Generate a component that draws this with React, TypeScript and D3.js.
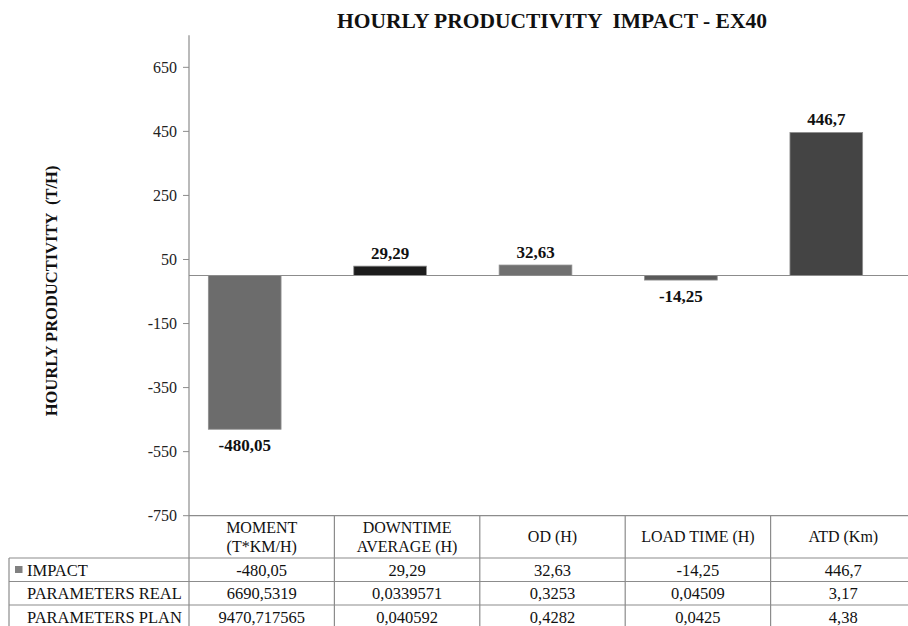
import React from "react";
import * as d3 from "d3";

const categories = ["MOMENT|(T*KM/H)", "DOWNTIME|AVERAGE (H)", "OD (H)", "LOAD TIME (H)", "ATD (Km)"];
const impact = [-480.05, 29.29, 32.63, -14.25, 446.7];
const paramsReal = [6690.5319, 0.0339571, 0.3253, 0.04509, 3.17];
const paramsPlan = [9470.717565, 0.040592, 0.4282, 0.0425, 4.38];
const rowLabels = ["IMPACT", "PARAMETERS REAL", "PARAMETERS PLAN"];
const yTicks = [-750, -550, -350, -150, 50, 250, 450, 650];
const barColors = ["#6c6c6c", "#1c1c1c", "#707070", "#5a5a5a", "#444444"];

const W = 908;
const H = 626;
const FONT = "Liberation Serif, DejaVu Serif, Times, serif";
const GRID = "#8c8c8c";

const fmt = (v: number) => String(v).replace(".", ",");

export default function App() {
  const plotLeft = 189;
  const plotRight = 916;
  const yTop = 35.3;
  const yBottom = 515.7;

  const y = d3.scaleLinear().domain([-750, 750]).range([yBottom, yTop]);
  const xCol = d3.scaleBand<string>().domain(categories).range([plotLeft, plotRight]).padding(0);
  const xBar = d3
    .scaleBand<string>()
    .domain(categories)
    .range([plotLeft - 17, plotRight - 17])
    .paddingInner(0.5)
    .paddingOuter(0.25);

  const headerBottom = 558;
  const rowH = 23.5;
  const rowTops = rowLabels.map((_, i) => headerBottom + i * rowH);
  const tableBottom = headerBottom + rowLabels.length * rowH;
  const tableLeft = 9;
  const rowsData = [impact, paramsReal, paramsPlan];
  const f = { fontFamily: FONT } as React.CSSProperties;

  return (
    <svg width={W} height={H} style={{ position: "absolute", left: 0, top: 0, background: "#fff" }}>
      <rect x={0} y={0} width={W} height={H} fill="#fff" />
      {/* Title */}
      <text
        x={552}
        y={28}
        textAnchor="middle"
        fontWeight="bold"
        fontSize={21.5}
        fill="#111"
        style={{ ...f, whiteSpace: "pre" }}
      >
        {"HOURLY PRODUCTIVITY  IMPACT - EX40"}
      </text>

      {/* Y axis title */}
      <text
        transform={`translate(57, ${291}) rotate(-90)`}
        textAnchor="middle"
        fontWeight="bold"
        fontSize={16.5}
        fill="#111"
        style={{ ...f, whiteSpace: "pre" }}
      >
        {"HOURLY PRODUCTIVITY  (T/H)"}
      </text>

      {/* Y axis ticks */}
      {yTicks.map((t) => (
        <g key={t}>
          <line x1={plotLeft - 6} x2={plotLeft} y1={y(t)} y2={y(t)} stroke={GRID} strokeWidth={1} />
          <text
            x={plotLeft - 12}
            y={y(t)}
            dy="0.35em"
            textAnchor="end"
            fontSize={16}
            fill="#222"
            style={f}
          >
            {t}
          </text>
        </g>
      ))}

      {/* Bars */}
      {categories.map((c, i) => {
        const v = impact[i];
        const y0 = y(0);
        const yv = y(v);
        const top = Math.min(y0, yv);
        const h = Math.abs(yv - y0);
        const cx = (xBar(c) as number) + xBar.bandwidth() / 2;
        return (
          <g key={c}>
            <rect
              x={xBar(c)}
              y={top}
              width={xBar.bandwidth()}
              height={h}
              fill={barColors[i]}
              stroke="#8f8f8f"
              strokeWidth={0.8}
            />
            <text
              x={cx}
              y={v >= 0 ? yv - 7 : yv + 22}
              textAnchor="middle"
              fontWeight="bold"
              fontSize={17}
              fill="#111"
              style={f}
            >
              {fmt(v)}
            </text>
          </g>
        );
      })}

      {/* Zero line */}
      <line x1={plotLeft} x2={W} y1={y(0)} y2={y(0)} stroke={GRID} strokeWidth={1.2} />

      {/* Y axis line */}
      <line x1={plotLeft} x2={plotLeft} y1={yTop} y2={tableBottom + 5} stroke={GRID} strokeWidth={1.2} />

      {/* Table grid */}
      <line x1={plotLeft} x2={W} y1={yBottom} y2={yBottom} stroke={GRID} strokeWidth={1.2} />
      {rowTops.map((rt, i) => (
        <line key={i} x1={tableLeft} x2={W} y1={rt} y2={rt} stroke={GRID} strokeWidth={1.2} />
      ))}
      <line x1={tableLeft} x2={tableLeft} y1={headerBottom} y2={tableBottom + 5} stroke={GRID} strokeWidth={1.2} />
      {categories.map((c) => (
        <line
          key={c}
          x1={(xCol(c) as number) + xCol.bandwidth()}
          x2={(xCol(c) as number) + xCol.bandwidth()}
          y1={yBottom}
          y2={tableBottom + 5}
          stroke={GRID}
          strokeWidth={1.2}
        />
      ))}

      {/* Header labels */}
      {categories.map((c) => {
        const lines = c.split("|");
        const cx = (xCol(c) as number) + xCol.bandwidth() / 2;
        const mid = (yBottom + headerBottom) / 2;
        return (
          <text key={c} x={cx} textAnchor="middle" fontSize={16} fill="#111" style={f}>
            {lines.map((l, k) => (
              <tspan key={k} x={cx} y={mid + 5.5 + (k - (lines.length - 1) / 2) * 18.5}>
                {l}
              </tspan>
            ))}
          </text>
        );
      })}

      {/* Row labels */}
      <rect x={15} y={rowTops[0] + 8} width={7.5} height={7} fill="#808080" />
      {rowLabels.map((r, i) => (
        <text key={r} x={27} y={rowTops[i] + 17.5} fontSize={16.5} fill="#111" style={f}>
          {r}
        </text>
      ))}

      {/* Cell values */}
      {rowsData.map((row, ri) =>
        categories.map((c, ci) => (
          <text
            key={`${ri}-${ci}`}
            x={(xCol(c) as number) + xCol.bandwidth() / 2}
            y={rowTops[ri] + 17.5}
            textAnchor="middle"
            fontSize={16.5}
            fill="#111"
            style={f}
          >
            {fmt(row[ci])}
          </text>
        ))
      )}
    </svg>
  );
}
